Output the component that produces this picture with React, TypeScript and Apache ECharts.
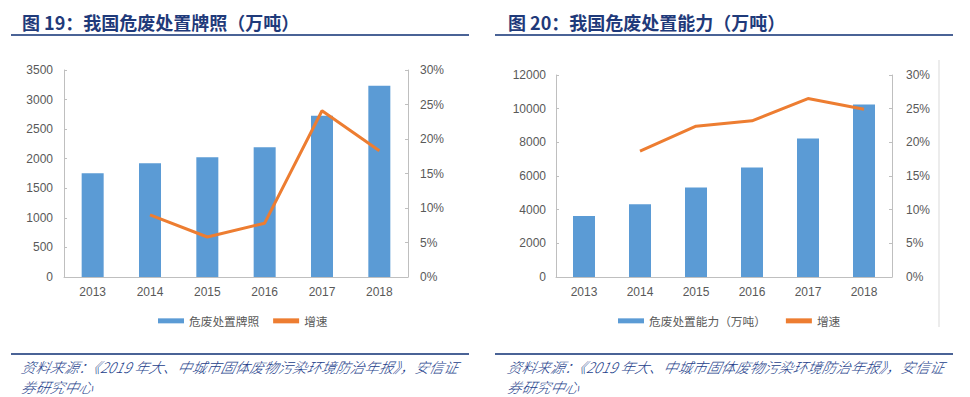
import React, { useEffect, useRef } from "react";
import * as echarts from "echarts";

const years = ["2013", "2014", "2015", "2016", "2017", "2018"];
// 图19 危废处置牌照（万吨）
const licenseValues = [1753, 1922, 2024, 2193, 2727, 3235];
const licenseGrowth = [null, 9.0, 5.8, 7.8, 24.1, 18.3];
// 图20 危废处置能力（万吨）
const capacityValues = [3630, 4325, 5315, 6505, 8230, 10250];
const capacityGrowth = [null, 18.7, 22.4, 23.2, 26.5, 24.9];

const leftTitle = "图 19：我国危废处置牌照（万吨）";
const rightTitle = "图 20：我国危废处置能力（万吨）";
const leftBarName = "危废处置牌照";
const rightBarName = "危废处置能力（万吨）";
const growthName = "增速";
const sourceLine1 = "资料来源：《2019 年大、中城市固体废物污染环境防治年报》，安信证";
const sourceLine2 = "券研究中心";

const BAR = "#5B9BD5";
const LINE = "#ED7D31";
const AXIS = "#BFBFBF";
const LABEL = "#595959";
const NAVY = "#1F3A7A";
const SRC = "#23408A";
const CJK = '"Noto Sans CJK SC", sans-serif';
const NUM = '"Liberation Sans", Arial, sans-serif';

function axisLabel(extra: any = {}) {
  return { color: LABEL, fontSize: 12, fontFamily: NUM, ...extra };
}

export default function App() {
  const ref = useRef<HTMLDivElement>(null);
  useEffect(() => {
    if (!ref.current) return;
    const chart = echarts.init(ref.current, undefined, { renderer: "svg" });
    const yBase = (gridIndex: number, max: number, interval: number, pos: string, extra: any = {}) => ({
      type: "value",
      gridIndex,
      position: pos,
      min: 0,
      max,
      interval,
      axisLine: { show: true, lineStyle: { color: AXIS, width: 1 } },
      axisTick: { show: true, inside: true, length: 3, lineStyle: { color: AXIS } },
      splitLine: { show: false },
      axisLabel: axisLabel(extra),
    });
    const xBase = (gridIndex: number) => ({
      type: "category",
      gridIndex,
      data: years,
      axisLine: { show: true, lineStyle: { color: AXIS, width: 1 } },
      axisTick: { show: false },
      axisLabel: axisLabel({ margin: 9 }),
    });
    const titleText = (text: string, x: number) => ({
      type: "text",
      x,
      y: 22,
      style: {
        text,
        fill: NAVY,
        fontSize: 18,
        fontWeight: "bold",
        fontFamily: CJK,
        verticalAlign: "middle",
      },
    });
    const hline = (x1: number, x2: number, y: number) => ({
      type: "line",
      shape: { x1, y1: y, x2, y2: y },
      style: { stroke: "#0E2F73", lineWidth: 1.5 },
    });
    const srcText = (text: string, x: number, y: number) => ({
      type: "text",
      x,
      y,
      skewX: -0.22,
      style: {
        text,
        fill: SRC,
        fontSize: 14.4,
        fontStyle: "italic",
        fontWeight: 300,
        fontFamily: CJK,
        verticalAlign: "middle",
      },
    });
    const plain = (v: number) => String(v);
    const legendText = { color: LABEL, fontSize: 11.7, fontFamily: CJK };
    chart.setOption({
      animation: false,
      backgroundColor: "#fff",
      grid: [
        { left: 64, width: 344, top: 70, height: 207 },
        { left: 556, width: 336, top: 75, height: 202 },
      ],
      xAxis: [xBase(0), xBase(1)],
      yAxis: [
        yBase(0, 3500, 500, "left", { margin: 11, formatter: plain }),
        yBase(0, 30, 5, "right", { margin: 12, formatter: "{value}%" }),
        yBase(1, 12000, 2000, "left", { margin: 10, formatter: plain }),
        yBase(1, 30, 5, "right", { margin: 14, formatter: "{value}%" }),
      ],
      legend: [
        {
          left: 153,
          top: 310,
          itemWidth: 26,
          itemHeight: 5,
          itemGap: 14,
          textStyle: legendText,
          data: [
            { name: leftBarName, icon: "rect" },
            { name: growthName, icon: "rect", itemStyle: { color: LINE } },
          ],
        },
        {
          left: 613,
          top: 310,
          itemWidth: 26,
          itemHeight: 5,
          itemGap: 20,
          textStyle: legendText,
          data: [
            { name: rightBarName, icon: "rect" },
            { name: growthName, icon: "rect", itemStyle: { color: LINE } },
          ],
        },
      ],
      series: [
        {
          name: leftBarName,
          type: "bar",
          xAxisIndex: 0,
          yAxisIndex: 0,
          data: licenseValues,
          barWidth: 22,
          itemStyle: { color: BAR },
        },
        {
          name: growthName,
          type: "line",
          xAxisIndex: 0,
          yAxisIndex: 1,
          data: licenseGrowth,
          symbol: "none",
          lineStyle: { color: LINE, width: 3 },
          itemStyle: { color: LINE },
        },
        {
          name: rightBarName,
          type: "bar",
          xAxisIndex: 1,
          yAxisIndex: 2,
          data: capacityValues,
          barWidth: 22,
          itemStyle: { color: BAR },
        },
        {
          name: growthName,
          type: "line",
          xAxisIndex: 1,
          yAxisIndex: 3,
          data: capacityGrowth,
          symbol: "none",
          lineStyle: { color: LINE, width: 3 },
          itemStyle: { color: LINE },
        },
      ],
      graphic: [
        titleText(leftTitle, 22),
        titleText(rightTitle, 508),
        hline(11, 469, 35),
        hline(495, 953, 35),
        hline(11, 469, 354),
        hline(495, 953, 354),
        {
          type: "line",
          shape: { x1: 939, y1: 60, x2: 939, y2: 327 },
          style: { stroke: "#D9D9D9", lineWidth: 1 },
        },
        srcText(sourceLine1, 22, 367),
        srcText(sourceLine2, 22, 387),
        srcText(sourceLine1, 508, 367),
        srcText(sourceLine2, 508, 387),
      ],
    });
    return () => chart.dispose();
  }, []);
  return (
    <div
      ref={ref}
      style={{ position: "absolute", left: 0, top: 0, width: 970, height: 397, background: "#fff" }}
    />
  );
}
